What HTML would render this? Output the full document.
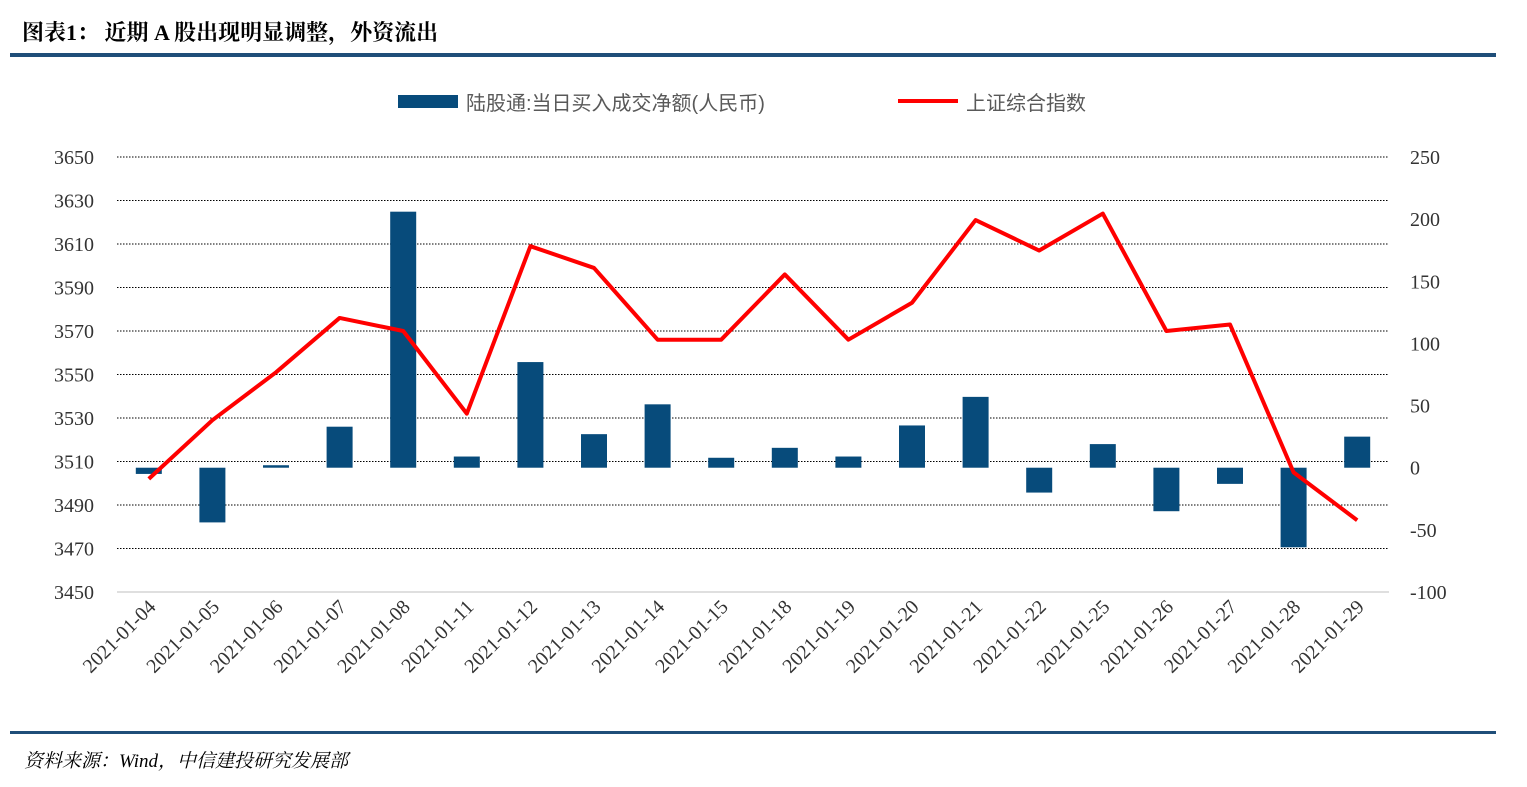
<!DOCTYPE html>
<html><head><meta charset="utf-8"><style>
body{margin:0;background:#fff;width:1527px;height:782px;overflow:hidden;font-family:"Liberation Serif","Noto Serif CJK SC",serif;}
</style></head><body>
<svg width="1527" height="782" xmlns="http://www.w3.org/2000/svg">
<text x="22" y="40" font-size="22" font-weight="bold" font-family="'Liberation Serif','Noto Serif CJK SC',serif">图表1：  近期 A 股出现明显调整，外资流出</text>
<rect x="10" y="53" width="1486" height="4" fill="#1f4e79"/>
<rect x="10" y="731" width="1486" height="3" fill="#1f4e79"/>
<text x="24" y="767" font-size="19" font-style="italic" font-family="'Liberation Serif','Noto Serif CJK SC',serif">资料来源：Wind，中信建投研究发展部</text>
<g>
<rect x="398" y="95" width="60" height="13" fill="#074b7b"/>
<text x="466" y="110" font-size="20" fill="#595959" font-family="'Liberation Sans','Noto Sans CJK SC',sans-serif">陆股通:当日买入成交净额(人民币)</text>
<line x1="898" y1="101" x2="958" y2="101" stroke="#f00" stroke-width="4"/>
<text x="966" y="110" font-size="20" fill="#595959" font-family="'Liberation Sans','Noto Sans CJK SC',sans-serif">上证综合指数</text>
</g>
<g id="grid"></g><g id="bars"></g><g id="line"></g><g id="axes"></g>
</svg>
<script>
const categories=["2021-01-04","2021-01-05","2021-01-06","2021-01-07","2021-01-08","2021-01-11","2021-01-12","2021-01-13","2021-01-14","2021-01-15","2021-01-18","2021-01-19","2021-01-20","2021-01-21","2021-01-22","2021-01-25","2021-01-26","2021-01-27","2021-01-28","2021-01-29"];
const netFlow=[-5,-44,2,33,206,9,85,27,51,8,16,9,34,57,-20,19,-35,-13,-64,25];
const indexValues=[3502,3529,3551,3576,3570,3532,3609,3599,3566,3566,3596,3566,3583,3621,3607,3624,3570,3573,3505,3483];
const leftTicks=[3650,3630,3610,3590,3570,3550,3530,3510,3490,3470,3450];
const rightTicks=[250,200,150,100,50,0,-50,-100];
const NS="http://www.w3.org/2000/svg";
const X0=117,X1=1389,YT=157,YB=592;
const band=(X1-X0)/categories.length;
const xc=i=>X0+band*(i+0.5);
const yL=v=>YT+(3650-v)/(3650-3450)*(YB-YT);
const yR=v=>YT+(250-v)/(350)*(YB-YT);
function mk(tag,attrs,parent,text){const e=document.createElementNS(NS,tag);for(const k in attrs)e.setAttribute(k,attrs[k]);if(text!==undefined)e.textContent=text;document.getElementById(parent).appendChild(e);return e;}
leftTicks.forEach(t=>{
 const g=mk('line',{x1:X0,x2:X1,y1:yL(t),y2:yL(t),stroke:t===3450?'#bfbfbf':'#000','stroke-width':1,'stroke-dasharray':t===3450?'':'1.5,1.5'},'grid');
 
 
 const l=mk('text',{x:94,y:yL(t)+7,'font-size':20,'text-anchor':'end',fill:'#333'},'axes',t);
 
 
});
rightTicks.forEach(t=>{
 const l=mk('text',{x:1410,y:yR(t)+7,'font-size':20,fill:'#333'},'axes',t);
 
 
});
categories.forEach((c,i)=>{
 const v=netFlow[i];const y0=yR(0),y1=yR(v);
 const b=mk('rect',{x:xc(i)-13,y:Math.min(y0,y1),width:26,height:Math.abs(y1-y0),fill:'#074b7b'},'bars');
 
 
 const x=xc(i)+8,y=608;
 const l=mk('text',{x:x,y:y,'font-size':20,'text-anchor':'end',fill:'#333',transform:`rotate(-45 ${x} ${y})`},'axes',c);
 
 
});
const pts=indexValues.map((v,i)=>xc(i)+','+yL(v)).join(' ');
const pl=mk('polyline',{points:pts,fill:'none',stroke:'#f00','stroke-width':4,'stroke-linejoin':'round'},'line');


</script>
</body></html>
